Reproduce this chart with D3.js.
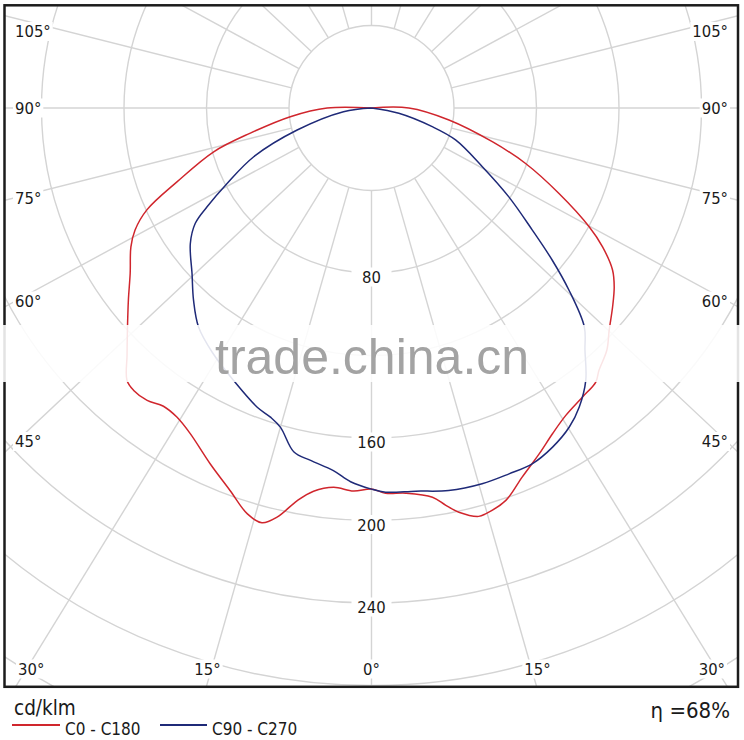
<!DOCTYPE html>
<html>
<head>
<meta charset="utf-8">
<script src="https://cdn.jsdelivr.net/npm/d3@7"></script>
<style>
  html, body { margin: 0; padding: 0; background: #ffffff; }
  svg { display: block; }
  .lbl { font-family: "DejaVu Sans Condensed", "DejaVu Sans", sans-serif; font-stretch: condensed; fill: #1a1a1a; }
</style>
</head>
<body>
<svg id="chart" width="744" height="740"></svg>
<script>
// ---------------- DATA ----------------
// Angles are gamma in degrees measured from nadir (0° = straight down); values in cd/klm.
// C0 - C180 (red): C180 drawn on the left half, C0 on the right half
const c180Angles = [0, 2.7, 5.7, 8.6, 10.7, 13, 14.8, 17, 20.3, 24.4, 29.1, 32.2, 34.9, 37.5, 40.1, 41.9, 44.7, 47.7, 51.7, 55.6, 60, 62.7, 65.6, 69.2, 74.5, 78.3, 83.9, 90, 180];
const c180Values = [184.7, 185.9, 184.8, 187.9, 193.7, 203.6, 208, 205.8, 197.7, 189.4, 180.7, 177.1, 176.3, 178.7, 179, 177.5, 168.5, 160, 150.2, 141.8, 134.7, 129, 119.6, 100.9, 79.4, 60, 39.6, 21.5, 0];
const c0Angles = [2.1, 5.1, 8.9, 10.6, 12.2, 14.7, 15.7, 18.9, 22.2, 25.9, 29.1, 32.3, 36.1, 39.3, 40.9, 44.2, 46.9, 50.5, 53.6, 56.1, 59, 61.4, 65.5, 70.2, 74.4, 81.2, 90, 180];
const c0Values = [186.9, 187.5, 191, 196, 200.5, 204.7, 204.4, 201.1, 193.3, 186.3, 180.6, 176.3, 173.5, 171.7, 168.4, 163.7, 157.8, 151.5, 146.2, 140.8, 130.7, 120.2, 99.9, 79.4, 60.8, 38, 18.1, 0];
// C90 - C270 (blue): C270 drawn on the left half, C90 on the right half
const c270Angles = [0, 3.2, 6, 9.8, 12.7, 15.9, 18.1, 20.9, 26.9, 33, 38.3, 42.8, 47.3, 53.2, 56.8, 59, 62.4, 67.5, 73.5, 82.5, 90];
const c270Values = [184.8, 181.5, 176.8, 173.4, 171, 161, 157.7, 155.3, 148, 141.5, 135.3, 127, 118.4, 109.7, 102.1, 93, 79, 61.8, 37.6, 13.7, 0];
const c90Angles = [2.1, 6.6, 11.4, 16.4, 20.6, 24.3, 28.1, 31.8, 34.8, 38.2, 41.4, 44.2, 47.3, 49.9, 52.8, 57.1, 62.1, 69.2, 72.9, 79, 90];
const c90Values = [186.4, 187, 189.2, 189.9, 189.5, 189.3, 186.4, 182, 176.5, 168, 156.5, 148, 130.3, 114.6, 97.9, 79.3, 60.8, 43.6, 30.8, 13.5, 0];

const ringValues = [40, 80, 120, 160, 200, 240, 280, 320, 360];
const ringLabelValues = [80, 160, 200, 240];
const spokeAngles = [0, 15, 30, 45, 60, 75, 90, 105, 120, 135, 150, 165, 180, 195, 210, 225, 240, 255, 270, 285, 300, 315, 330, 345];
const sideAngleLabels = ["105°", "90°", "75°", "60°", "45°"];
const bottomAngleLabels = ["30°", "15°", "0°", "15°", "30°"];
const seriesNames = ["C0 - C180", "C90 - C270"];
const seriesColors = ["#d0262d", "#1f2a78"];
const unitLabel = "cd/klm";
const efficiencyLabel = "η =68%";
const watermarkText = "trade.china.cn";

// ---------------- LAYOUT ----------------
const W = 744, H = 740;
const cx = 371.5, cy = 108;
const frame = { x: 4.5, y: 5.3, w: 733.5, h: 681.5 };
const spokeStretch = 1.065;
const sideLabelY = [31, 107.5, 197.5, 300.5, 441];
const bottomLabelX = [18, 207.5, 371.5, 537.5, 725];
const bottomLabelAnchor = ["start", "middle", "middle", "middle", "end"];

const svg = d3.select("#chart");
const rScale = d3.scaleLinear().domain([0, 40]).range([0, 82.5]);
const rad = d => d * Math.PI / 180;

svg.append("rect").attr("width", W).attr("height", H).attr("fill", "#fff");

const defs = svg.append("defs");
defs.append("clipPath").attr("id", "frameClip")
  .append("rect").attr("x", frame.x).attr("y", frame.y).attr("width", frame.w).attr("height", frame.h);

const plot = svg.append("g").attr("clip-path", "url(#frameClip)");
const grid = plot.append("g").attr("transform", `translate(${cx},${cy})`);

// rings
grid.selectAll("circle.ring").data(ringValues).join("circle")
  .attr("class", "ring").attr("r", d => rScale(d))
  .attr("fill", "none").attr("stroke", "#d4d4d4").attr("stroke-width", 1.4);

// spokes (start at the innermost ring)
grid.selectAll("line.spoke").data(spokeAngles).join("line")
  .attr("class", "spoke")
  .each(function (g) {
    const dx = spokeStretch * Math.sin(rad(g)), dy = Math.cos(rad(g));
    const n = Math.hypot(dx, dy);
    const r0 = rScale(ringValues[0]);
    d3.select(this)
      .attr("x1", dx / n * r0).attr("y1", dy / n * r0)
      .attr("x2", dx / n * 1400).attr("y2", dy / n * 1400);
  })
  .attr("stroke", "#d4d4d4").attr("stroke-width", 1.4);

// ring labels
const ringLbl = grid.selectAll("g.rlbl").data(ringLabelValues).join("g")
  .attr("class", "rlbl").attr("transform", d => `translate(0,${rScale(d) + 4})`);
ringLbl.append("rect").attr("x", -20).attr("y", -9.5).attr("width", 40).attr("height", 19).attr("fill", "#fff");
ringLbl.append("text").attr("class", "lbl").attr("text-anchor", "middle")
  .attr("y", 6).style("font-size", "16.5px").text(d => d);

// curves
const lineGen = d3.lineRadial()
  .angle(d => d[0]).radius(d => d[1])
  .curve(d3.curveCatmullRom.alpha(0.5));

function buildPoints(leftA, leftV, rightA, rightV) {
  const pts = [];
  for (let i = leftA.length - 1; i >= 0; i--) pts.push([Math.PI + rad(leftA[i]), rScale(leftV[i])]);
  for (let i = 0; i < rightA.length; i++) pts.push([Math.PI - rad(rightA[i]), rScale(rightV[i])]);
  return pts;
}
const curves = [
  buildPoints(c180Angles, c180Values, c0Angles, c0Values),
  buildPoints(c270Angles, c270Values, c90Angles, c90Values)
];
const curveG = plot.append("g").attr("transform", `translate(${cx},${cy})`);
curveG.selectAll("path").data(curves).join("path")
  .attr("d", d => lineGen(d))
  .attr("fill", "none")
  .attr("stroke", (d, i) => seriesColors[i])
  .attr("stroke-width", 1.5)
  .attr("stroke-linejoin", "round");

// angle labels
function addLabel(txt, x, y, anchor, size) {
  const t = svg.append("text").attr("class", "lbl").attr("x", x).attr("y", y)
    .attr("text-anchor", anchor).style("font-size", size + "px").text(txt);
  const bb = t.node().getBBox();
  svg.insert("rect", () => t.node())
    .attr("x", bb.x - 2).attr("y", bb.y).attr("width", bb.width + 4).attr("height", bb.height)
    .attr("fill", "#fff");
  return t;
}
sideAngleLabels.forEach((t, i) => {
  addLabel(t, 15, sideLabelY[i] + 6, "start", 16.5);
  addLabel(t, 728, sideLabelY[i] + 6, "end", 16.5);
});
bottomAngleLabels.forEach((t, i) => {
  addLabel(t, bottomLabelX[i], 668.5 + 6, bottomLabelAnchor[i], 16.5);
});

// frame
svg.append("rect").attr("x", frame.x).attr("y", frame.y).attr("width", frame.w).attr("height", frame.h)
  .attr("fill", "none").attr("stroke", "#1c1c1c").attr("stroke-width", 2.5);

// watermark band + text
svg.append("rect").attr("x", 0).attr("y", 325).attr("width", W).attr("height", 57)
  .attr("fill", "#fff").attr("opacity", 0.88);
svg.append("text").attr("x", 215).attr("y", 374)
  .style("font-family", "'Liberation Sans', Arial, sans-serif").style("font-size", "50px")
  .attr("fill", "#a3a3a3").text(watermarkText);

// legend
svg.append("text").attr("class", "lbl").attr("x", 14).attr("y", 715)
  .style("font-size", "20.5px").text(unitLabel);
svg.append("text").attr("class", "lbl").attr("x", 730).attr("y", 718)
  .attr("text-anchor", "end").style("font-size", "22px").text(efficiencyLabel);

const legendX = [[12, 60, 65], [160, 207, 212]];
seriesNames.forEach((name, i) => {
  svg.append("line").attr("x1", legendX[i][0]).attr("x2", legendX[i][1])
    .attr("y1", 725).attr("y2", 725)
    .attr("stroke", seriesColors[i]).attr("stroke-width", 2);
  svg.append("text").attr("class", "lbl").attr("x", legendX[i][2]).attr("y", 735)
    .style("font-size", "17px").text(name);
});
</script>
</body>
</html>
